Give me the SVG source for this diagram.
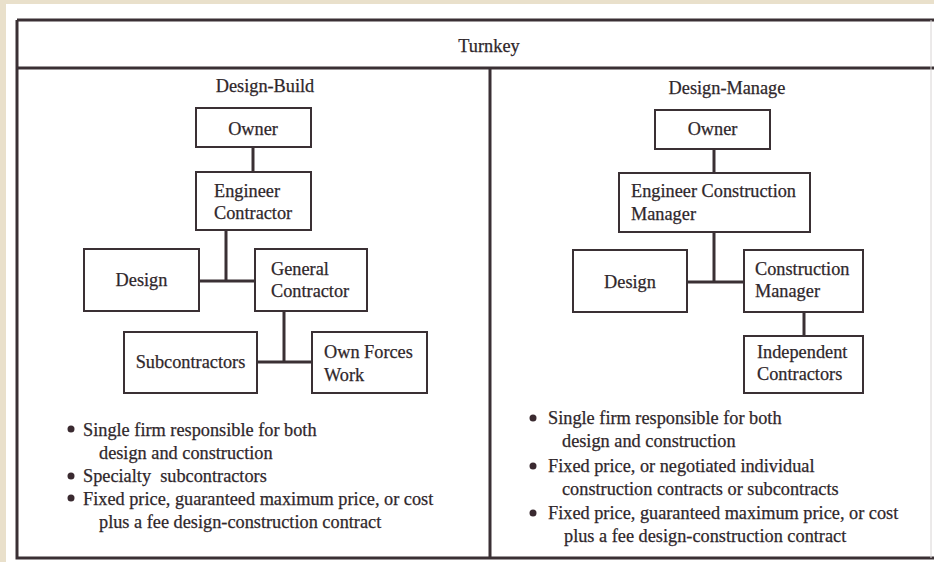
<svg xmlns="http://www.w3.org/2000/svg" width="934" height="562" viewBox="0 0 934 562">
<style>
.t{font-family:"Liberation Serif","Times New Roman",serif;font-size:18.3px;fill:#2f272b;stroke:#2f272b;stroke-width:0.25}
.c{text-anchor:middle}
.box{fill:#ffffff;stroke:#3a3034;stroke-width:2}
.frame{stroke:#3a3034;stroke-width:3;fill:none}
.conn{stroke:#3a3034;stroke-width:3;fill:none}
.dot{fill:#3a2a30}
</style>
<rect x="0" y="0" width="934" height="562" fill="#e9e0cb"/>
<rect x="6" y="4" width="928" height="558" fill="#ffffff"/>
<g id="frame">
<path class="frame" d="M17,20 H934 M17,68 H934 M17,20 V558 H934 M490,68 V558"/>
<line x1="931" y1="20" x2="931" y2="558" stroke="#d8d4d4" stroke-width="1"/>
</g>
<g id="headers">
<text class="t c" x="489" y="52">Turnkey</text>
<text class="t c" x="265" y="92">Design-Build</text>
<text class="t c" x="727" y="94">Design-Manage</text>
</g>
<g id="connectors">
<path class="conn" d="M253,147 V172"/>
<path class="conn" d="M226,230 V281 M199,281 H255"/>
<path class="conn" d="M284,311 V362 M257,362 H312"/>
<path class="conn" d="M714,149 V173"/>
<path class="conn" d="M714,232 V282 M687,282 H744"/>
<path class="conn" d="M804,312 V336"/>
</g>
<g id="db-owner"><rect class="box" x="196" y="108" width="115" height="39"/><text class="t c" x="253" y="135">Owner</text></g>
<g id="db-engineer-contractor"><rect class="box" x="196" y="172" width="115" height="58"/><text class="t" x="214" y="197">Engineer</text><text class="t" x="214" y="219">Contractor</text></g>
<g id="db-design"><rect class="box" x="84" y="249" width="115" height="62"/><text class="t c" x="141.5" y="286">Design</text></g>
<g id="db-general-contractor"><rect class="box" x="255" y="249" width="112" height="62"/><text class="t" x="271" y="275">General</text><text class="t" x="271" y="297">Contractor</text></g>
<g id="db-subcontractors"><rect class="box" x="124" y="332" width="133" height="61"/><text class="t c" x="190.5" y="368">Subcontractors</text></g>
<g id="db-own-forces"><rect class="box" x="312" y="332" width="115" height="61"/><text class="t" x="324" y="358">Own Forces</text><text class="t" x="324" y="381">Work</text></g>
<g id="dm-owner"><rect class="box" x="655" y="110" width="115" height="39"/><text class="t c" x="712.5" y="135">Owner</text></g>
<g id="dm-ecm"><rect class="box" x="619" y="173" width="191" height="59"/><text class="t" x="631" y="197">Engineer Construction</text><text class="t" x="631" y="220">Manager</text></g>
<g id="dm-design"><rect class="box" x="573" y="250" width="114" height="62"/><text class="t c" x="630" y="288">Design</text></g>
<g id="dm-construction-manager"><rect class="box" x="744" y="250" width="119" height="62"/><text class="t" x="755" y="275">Construction</text><text class="t" x="755" y="297">Manager</text></g>
<g id="dm-independent"><rect class="box" x="744" y="336" width="119" height="57"/><text class="t" x="757" y="358">Independent</text><text class="t" x="757" y="380">Contractors</text></g>
<g id="db-notes">
<circle class="dot" cx="71" cy="429" r="3.5"/>
<text class="t" x="83" y="436">Single firm responsible for both</text>
<text class="t" x="99" y="459">design and construction</text>
<circle class="dot" cx="71" cy="476" r="3.5"/>
<text class="t" x="83" y="482" xml:space="preserve">Specialty  subcontractors</text>
<circle class="dot" cx="71" cy="498" r="3.5"/>
<text class="t" x="83" y="505">Fixed price, guaranteed maximum price, or cost</text>
<text class="t" x="99" y="528">plus a fee design-construction contract</text>
</g>
<g id="dm-notes">
<circle class="dot" cx="533" cy="418" r="3.5"/>
<text class="t" x="548" y="424">Single firm responsible for both</text>
<text class="t" x="562" y="447">design and construction</text>
<circle class="dot" cx="533" cy="466" r="3.5"/>
<text class="t" x="548" y="472">Fixed price, or negotiated individual</text>
<text class="t" x="562" y="495">construction contracts or subcontracts</text>
<circle class="dot" cx="533" cy="513" r="3.5"/>
<text class="t" x="548" y="519">Fixed price, guaranteed maximum price, or cost</text>
<text class="t" x="564" y="542">plus a fee design-construction contract</text>
</g>
</svg>
